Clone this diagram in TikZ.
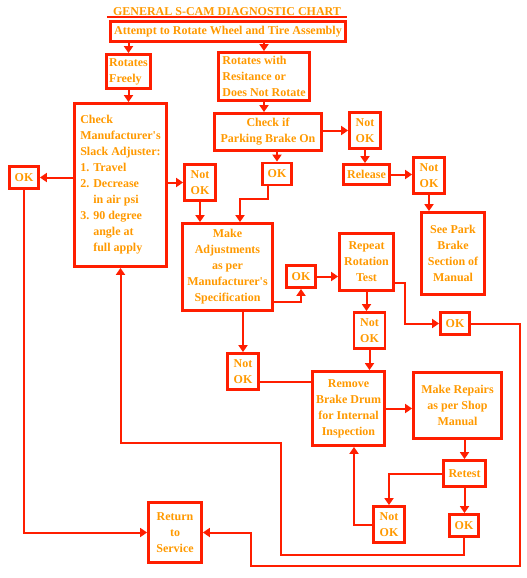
\documentclass[tikz,border=0pt]{standalone}
\usepackage{fontspec}
\setmainfont{Liberation Serif}
\usepackage{tikz}
\usetikzlibrary{arrows.meta,positioning,calc}
\definecolor{chartred}{HTML}{FF1E00}
\definecolor{chartorange}{HTML}{FF9900}
\newcommand{\apos}{\textquotesingle}
\tikzset{
    every picture/.style={line join=miter},
    chartbox/.style={draw=chartred,line width=2.8pt,inner sep=1pt,
      text=chartorange,font=\bfseries\fontsize{12}{16}\selectfont,align=center},
    okbox/.style={chartbox,minimum width=29pt,minimum height=22pt},
    notokbox/.style={chartbox,minimum width=31pt,minimum height=36pt},
    flowarrow/.style={-{Triangle[length=7pt,width=9pt]},draw=chartred,
      line width=2pt},
    chartline/.style={draw=chartred,line width=2pt}
}

\begin{document}
\begin{tikzpicture}[x=1pt,y=1pt]
  \useasboundingbox (0,0) rectangle (527,-578);
  % heading
  \node[text=chartorange,font=\bfseries\fontsize{12}{14}\selectfont,
    minimum width=240pt,inner xsep=0pt,inner ysep=1pt,anchor=base] (title) at (227,-16)
    {GENERAL S-CAM DIAGNOSTIC CHART};
  \draw[chartline] (title.south west) -- (title.south east);
  % main boxes
  \node[chartbox,minimum width=235pt,minimum height=20pt] (attempt) at (228,-31.5)
    {Attempt to Rotate Wheel and Tire Assembly};
  \node[chartbox,minimum width=44pt,minimum height=34pt,align=left] (freely) at (128.5,-71.5)
    {Rotates\\Freely};
  \node[chartbox,minimum width=91pt,minimum height=48pt,align=left] (resist) at (264,-76.5)
    {Rotates with\\Resitance or\\Does Not Rotate};
  \node[chartbox,minimum width=92pt,minimum height=163pt,align=left] (slack) at (120.5,-185)
    {Check\\Manufacturer\apos s\\Slack Adjuster:\\1. Travel\\2. Decrease\\\phantom{2. }in air psi\\
     3. 90 degree\\\phantom{3. }angle at\\\phantom{3. }full apply};
  \node[chartbox,minimum width=107pt,minimum height=37pt] (park) at (268,-132)
    {Check if\\Parking Brake On};
  \node[chartbox,minimum width=46pt,minimum height=20pt] (release) at (366.5,-174.5)
    {Release};
  \node[chartbox,minimum width=63pt,minimum height=82pt] (seepark) at (453,-253.5)
    {See Park\\Brake\\Section of\\Manual};
  \node[chartbox,minimum width=90pt,minimum height=87pt] (adjust) at (227.5,-267)
    {Make\\Adjustments\\as per\\Manufacturer\apos s\\Specification};
  \node[chartbox,minimum width=54pt,minimum height=57pt] (repeat) at (366.5,-262)
    {Repeat\\Rotation\\Test};
  \node[chartbox,minimum width=72pt,minimum height=74pt] (drum) at (348.5,-408.5)
    {Remove\\Brake Drum\\for Internal\\Inspection};
  \node[chartbox,minimum width=88pt,minimum height=66pt] (repairs) at (457.5,-405.5)
    {Make Repairs\\as per Shop\\Manual};
  \node[chartbox,minimum width=42pt,minimum height=26pt] (retest) at (464.5,-473.5)
    {Retest};
  \node[chartbox,minimum width=53pt,minimum height=60pt] (service) at (175,-532.5)
    {Return\\to\\Service};
  % answer boxes
  \foreach \n/\x/\y in {okA/24/177.5,okB/277/174,okC/301/276.5,okD/455/323.5,okE/464/525.5} {
    \node[okbox] (\n) at (\x,-\y) {OK};
  }
  \foreach \n/\x/\y in {notokA/200/182.5,notokB/365/130.5,notokC/429/175.5,
      notokD/369.5/330.5,notokE/243/371.5,notokF/389/524.5} {
    \node[notokbox] (\n) at (\x,-\y) {Not\\OK};
  }
  % connectors
  \draw[flowarrow] (attempt.south -| freely.north) -- (freely.north);
  \draw[flowarrow] (attempt.south -| resist.north) -- (resist.north);
  \draw[flowarrow] (freely.south) -- (freely.south |- slack.north);
  \draw[flowarrow] (resist.south) -- (resist.south |- park.north);
  \draw[flowarrow] (slack.west |- okA) -- (okA.east);
  \draw[flowarrow] (slack.east |- notokA) -- (notokA.west);
  \draw[flowarrow] (park.east |- notokB) -- (notokB.west);
  \draw[flowarrow] (park.south -| okB) -- (okB.north);
  \draw[flowarrow] (notokB.south) -- (notokB.south |- release.north);
  \draw[flowarrow] (release.east) -- (release.east -| notokC.west);
  \draw[flowarrow] (notokC.south) -- (notokC.south |- seepark.north);
  \draw[flowarrow] (notokA.south) -- (notokA.south |- adjust.north);
  \draw[flowarrow] ([xshift=-9pt]okB.south) -- ++(0,-13) -| ([xshift=12.5pt]adjust.north);
  \draw[flowarrow] ([yshift=10pt]adjust.south east) -| (okC.south);
  \draw[flowarrow] (okC.east) -- (okC.east -| repeat.west);
  \draw[flowarrow] (repeat.south) -- (repeat.south |- notokD.north);
  \draw[flowarrow] ([yshift=9pt]repeat.south east) -- ++(10,0) |- (okD.west);
  \draw[flowarrow] (okD.east) -| (520,-566) -| (251,-532.5) -- (service.east);
  \draw[flowarrow] (adjust.south -| notokE) -- (notokE.north);
  \draw[chartline] ([yshift=-10pt]notokE.east) -- ([yshift=-10pt]notokE.east -| drum.west);
  \draw[flowarrow] (notokD.south) -- (notokD.south |- drum.north);
  \draw[flowarrow] (drum.east) -- (drum.east -| repairs.west);
  \draw[flowarrow] (repairs.south -| retest) -- (retest.north);
  \draw[flowarrow] (retest.west) -| (notokF.north);
  \draw[flowarrow] (notokF.west) -| ([xshift=5.5pt]drum.south);
  \draw[flowarrow] (retest.south) -- (retest.south |- okE.north);
  \draw[flowarrow] (okE.south) |- (281,-555) -- (281,-443) -| (slack.south);
  \draw[flowarrow] (okA.south) |- (service.west);
\end{tikzpicture}
\end{document}
